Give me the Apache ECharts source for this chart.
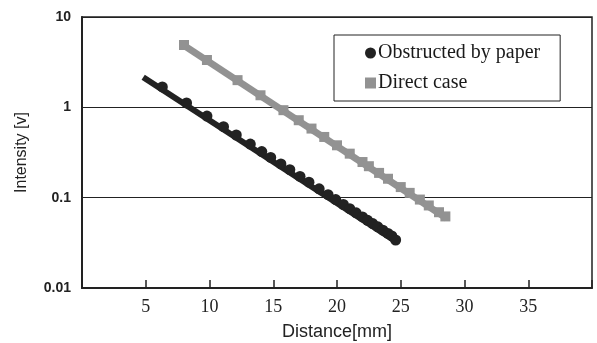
<!DOCTYPE html>
<html>
<head>
<meta charset="utf-8">
<script src="https://cdn.jsdelivr.net/npm/echarts@6/dist/echarts.min.js"></script>
<style>
html,body{margin:0;padding:0;background:#fff;}
#chart{width:597px;height:343px;}
</style>
</head>
<body>
<div id="chart"></div>
<script>
// Obstructed by paper: measured points
var obstructedX = [6.3, 8.2, 9.8, 11.1, 12.1, 13.2, 14.1, 14.8, 15.6, 16.3, 17.1, 17.8, 18.6, 19.3, 19.9, 20.5, 21, 21.5, 22, 22.4, 22.8, 23.2, 23.6, 24, 24.3, 24.6];
var obstructedY = [1.68, 1.12, 0.80, 0.61, 0.494, 0.392, 0.324, 0.279, 0.236, 0.204, 0.172, 0.1485, 0.1254, 0.108, 0.0953, 0.084, 0.0756, 0.068, 0.0612, 0.0562, 0.0517, 0.0475, 0.0437, 0.0402, 0.0377, 0.034];
// Obstructed: fitted line
var obstructedFitX = [4.8, 24.6];
var obstructedFitY = [2.15, 0.033];
// Direct case: measured points
var directX = [8, 9.8, 12.2, 14, 15.8, 17, 18, 19, 20, 21, 22, 22.5, 23.3, 24, 25, 25.7, 26.5, 27.2, 28, 28.5];
var directY = [4.90, 3.34, 2.00, 1.36, 0.93, 0.72, 0.582, 0.47, 0.38, 0.307, 0.248, 0.223, 0.188, 0.162, 0.131, 0.113, 0.0953, 0.082, 0.069, 0.062];
// Direct case: fitted line
var directFitX = [7.9, 28.6];
var directFitY = [4.95, 0.059];
// Axis ticks
var xTicks = [5, 10, 15, 20, 25, 30, 35];
var yTicks = [0.01, 0.1, 1, 10];

function pairs(xs, ys){ return xs.map(function(x,i){ return [x, ys[i]]; }); }

var chart = echarts.init(document.getElementById('chart'), null, {renderer:'canvas'});
chart.setOption({
  animation:false,
  backgroundColor:'#fff',
  grid:{left:82, right:5, top:17, bottom:55, containLabel:false, outerBoundsMode:'none',
    show:true, borderColor:'#222', borderWidth:1.5, backgroundColor:'transparent'},
  legend:{
    orient:'vertical', left:334, top:35,
    padding:[8, 20, 8, 31], itemGap:10,
    borderColor:'#222', borderWidth:1, backgroundColor:'#fff',
    itemWidth:11, itemHeight:11,
    textStyle:{fontFamily:'Liberation Serif', fontSize:20, color:'#1a1a1a', padding:[0,0,0,-3]},
    data:[{name:'Obstructed by paper', icon:'circle'},{name:'Direct case', icon:'rect'}]
  },
  xAxis:{
    type:'value', min:0, max:40, interval:5,
    name:'Distance[mm]', nameLocation:'middle', nameGap:35,
    nameTextStyle:{fontFamily:'Liberation Sans', fontSize:18, color:'#222'},
    axisLine:{show:true, lineStyle:{color:'#222', width:2}},
    axisTick:{show:true, inside:true, length:8, lineStyle:{color:'#222', width:1.5}},
    axisLabel:{margin:10, fontFamily:'Liberation Serif', fontSize:18, color:'#222',
      formatter:function(v){ return xTicks.indexOf(v) >= 0 ? String(v) : ''; }},
    splitLine:{show:false}
  },
  yAxis:{
    type:'log', logBase:10, min:0.01, max:10,
    name:'Intensity [v]', nameLocation:'middle', nameGap:52, nameRotate:90,
    nameTextStyle:{fontFamily:'Liberation Sans', fontSize:16, color:'#222'},
    axisLine:{show:true, lineStyle:{color:'#222', width:2}},
    axisTick:{show:false},
    axisLabel:{margin:11, fontFamily:'Liberation Sans', fontSize:14, fontWeight:'bold', color:'#222',
      formatter:function(v){ for (var i=0;i<yTicks.length;i++){ if (Math.abs(v-yTicks[i])<1e-9) return String(yTicks[i]); } return ''; }},
    splitLine:{show:true, lineStyle:{color:'#222', width:1}}
  },
  series:[
    {name:'Direct fit', type:'line', data:pairs(directFitX, directFitY), showSymbol:false,
      lineStyle:{color:'#929292', width:7}, z:2, silent:true},
    {name:'Direct case', type:'line', data:pairs(directX, directY), symbol:'rect', symbolSize:10,
      lineStyle:{width:0, opacity:0}, itemStyle:{color:'#929292'}, z:3},
    {name:'Obstructed fit', type:'line', data:pairs(obstructedFitX, obstructedFitY), showSymbol:false,
      lineStyle:{color:'#222', width:6}, z:4, silent:true},
    {name:'Obstructed by paper', type:'line', data:pairs(obstructedX, obstructedY), symbol:'circle', symbolSize:11,
      lineStyle:{width:0, opacity:0}, itemStyle:{color:'#222'}, z:5}
  ]
});
</script>
</body>
</html>
